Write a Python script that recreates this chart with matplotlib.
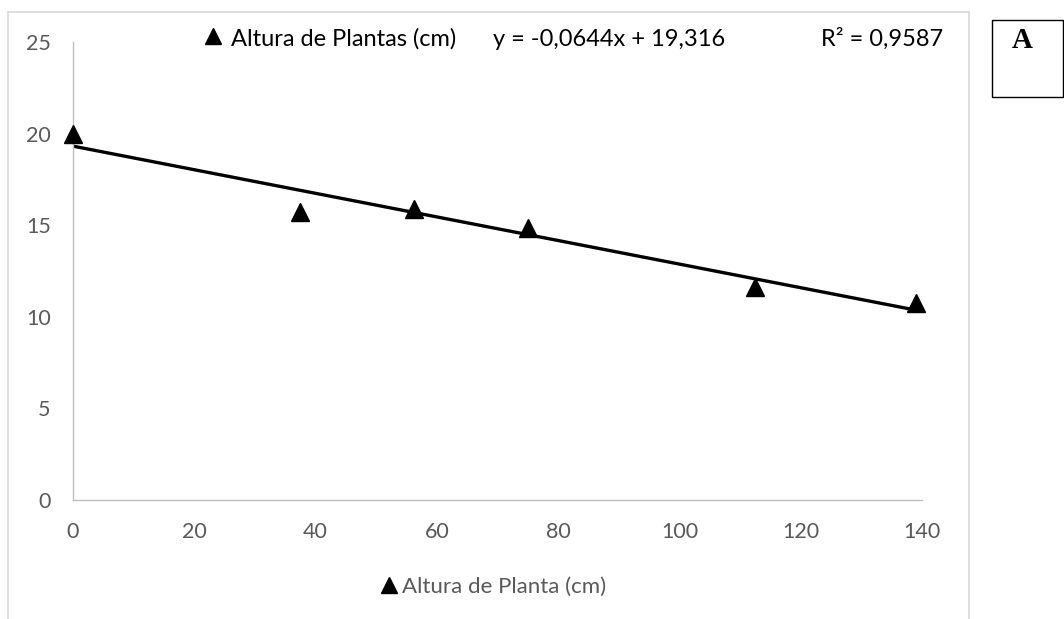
import matplotlib.pyplot as plt
from matplotlib.lines import Line2D
from matplotlib.patches import Rectangle

plt.rcParams['font.family'] = ['Lato', 'DejaVu Sans']

# Data
doses = [0, 37.5, 56.25, 75, 112.5, 139]
altura = [20.0, 15.72, 15.91, 14.87, 11.6, 10.75]
slope = -0.0644
intercept = 19.316
r2_text = 'R² = 0,9587'
eq_text = 'y = -0,0644x + 19,316'
x_ticks = [0, 20, 40, 60, 80, 100, 120, 140]
y_ticks = [0, 5, 10, 15, 20, 25]

W, H = 1064, 619
fig = plt.figure(figsize=(W / 100, H / 100), dpi=100)
ax = fig.add_axes([73 / W, 1 - 500 / H, (922 - 73) / W, (500 - 42) / H])

# trendline over the data range
x_fit = [min(doses), max(doses)]
y_fit = [slope * x + intercept for x in x_fit]
ax.plot(x_fit, y_fit, color='black', lw=2.4, zorder=2)
ax.plot(doses, altura, linestyle='none', marker='^', markersize=13,
        color='black', zorder=3, clip_on=False)

ax.set_xlim(0, 140)
ax.set_ylim(0, 25)
ax.set_xticks(x_ticks)
ax.set_yticks(y_ticks)
ax.tick_params(length=0, labelsize=15.5, labelcolor='#595959')
ax.tick_params(axis='y', pad=16)
ax.tick_params(axis='x', pad=16)
for s in ['top', 'right']:
    ax.spines[s].set_visible(False)
for s in ['left', 'bottom']:
    ax.spines[s].set_color('#BFBFBF')
    ax.spines[s].set_linewidth(1.0)

# top legend line
fig.add_artist(Line2D([212.5 / W], [1 - 36 / H], marker='^', markersize=12,
                      color='black', linestyle='none'))
fig.text(231 / W, 1 - 46 / H, 'Altura de Plantas (cm)', fontsize=17,
         va='baseline', ha='left', color='black')
fig.text(493 / W, 1 - 46 / H, eq_text, fontsize=17, va='baseline', ha='left',
         color='black')
fig.text(943 / W, 1 - 46 / H, r2_text, fontsize=17, va='baseline', ha='right',
         color='black')

# bottom legend
fig.add_artist(Line2D([389 / W], [1 - 585 / H], marker='^', markersize=12,
                      color='black', linestyle='none'))
fig.text(402 / W, 1 - 593 / H, 'Altura de Planta (cm)', fontsize=16,
         va='baseline', ha='left', color='#595959')

# chart area border (open at bottom)
bc = '#D9D9D9'
fig.add_artist(Line2D([8 / W, 8 / W], [0, 1 - 12 / H], color=bc, lw=1.2))
fig.add_artist(Line2D([8 / W, 969 / W], [1 - 12 / H, 1 - 12 / H], color=bc, lw=1.2))
fig.add_artist(Line2D([969 / W, 969 / W], [0, 1 - 12 / H], color=bc, lw=1.2))

# label box "A"
fig.add_artist(Rectangle((992 / W, 1 - 97 / H), (1063 - 992) / W, 77 / H,
                         transform=fig.transFigure, fill=False,
                         edgecolor='black', lw=1.0))
fig.text(1022 / W, 1 - 48 / H, 'A', fontsize=21, fontweight='bold',
         family='Liberation Serif', va='baseline', ha='center')

fig.savefig('out.png', dpi=100)
